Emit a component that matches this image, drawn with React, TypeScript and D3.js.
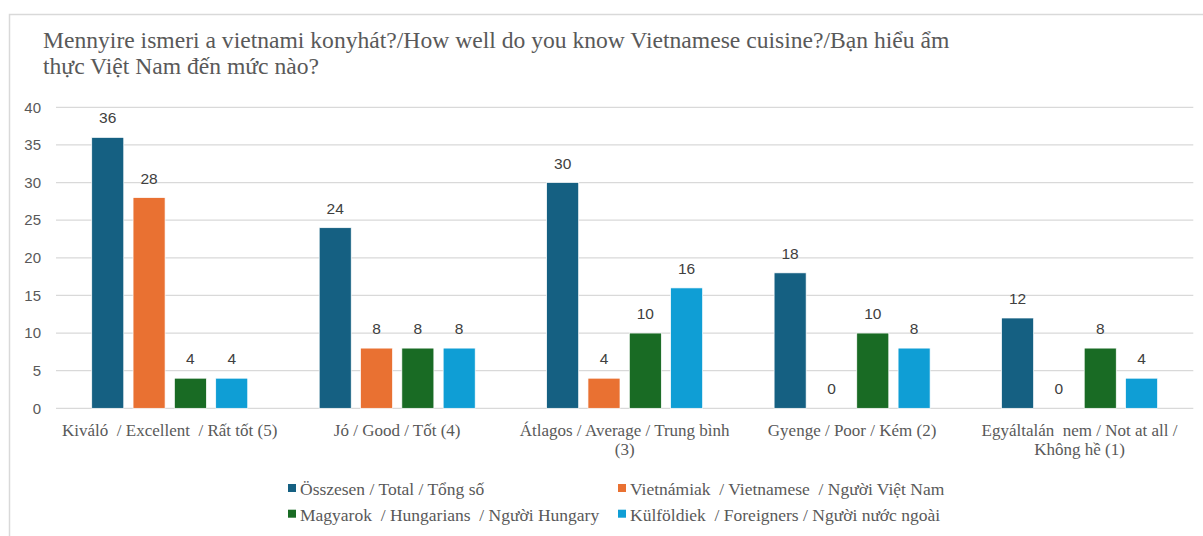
import React from "react";
import * as d3 from "d3";

const titleLines = [
  "Mennyire ismeri a vietnami konyhát?/How well do you know Vietnamese cuisine?/Bạn hiểu ẩm",
  "thực Việt Nam đến mức nào?",
];
const categories = [
  "Kiváló  / Excellent  / Rất tốt (5)",
  "Jó / Good / Tốt (4)",
  "Átlagos / Average / Trung bình (3)",
  "Gyenge / Poor / Kém (2)",
  "Egyáltalán  nem / Not at all / Không hề (1)",
];
const seriesNames = [
  "Összesen / Total / Tổng số",
  "Vietnámiak  / Vietnamese  / Người Việt Nam",
  "Magyarok  / Hungarians  / Người Hungary",
  "Külföldiek  / Foreigners / Người nước ngoài",
];
const seriesColors = ["#156082", "#E97132", "#196B24", "#0F9ED5"];
const totalValues = [36, 24, 30, 18, 12];
const vietnameseValues = [28, 8, 4, 0, 0];
const hungarianValues = [4, 8, 10, 10, 8];
const foreignerValues = [4, 8, 16, 8, 4];
const yTicks = [0, 5, 10, 15, 20, 25, 30, 35, 40];

const seriesValues = [totalValues, vietnameseValues, hungarianValues, foreignerValues];

const W = 1203;
const H = 536;
const SERIF = '"Liberation Serif", "Times New Roman", serif';
const SANS = '"Liberation Sans", Arial, sans-serif';
const CAT_FONT = 17;

function wrap(text: string, maxW: number, font: string): string[] {
  const ctx = document.createElement("canvas").getContext("2d");
  if (!ctx) return [text];
  ctx.font = font;
  const words = text.split(" ");
  const lines: string[] = [];
  let cur = "";
  for (let i = 0; i < words.length; i++) {
    const trial = cur === "" ? words[i] : cur + " " + words[i];
    if (ctx.measureText(trial.trim()).width > maxW && cur.trim() !== "") {
      lines.push(cur.trim());
      cur = words[i];
    } else {
      cur = trial;
    }
  }
  if (cur.trim() !== "") lines.push(cur.trim());
  return lines;
}

export default function App() {
  const x0 = d3.scaleBand<string>().domain(categories).range([56, 1193.3]).paddingInner(0).paddingOuter(0);
  const bw = x0.bandwidth();
  const groupW = 156;
  const x1 = d3
    .scaleBand<string>()
    .domain(seriesNames)
    .range([(bw - groupW) / 2, (bw + groupW) / 2])
    .paddingInner(0.225)
    .paddingOuter(0);
  const y = d3.scaleLinear().domain([0, 40]).range([408.3, 107.3]);

  const catFont = `${CAT_FONT}px ${SERIF}`;

  return (
    <svg
      width={W}
      height={H}
      style={{ position: "absolute", left: 0, top: 0, background: "#fff" }}
    >
      <rect x={0} y={0} width={W} height={H} fill="#fff" />
      <rect x={9.5} y={14.5} width={W + 20} height={H + 20} fill="#fff" stroke="#d9d9d9" strokeWidth={1.5} />
      {titleLines.map((t, i) => (
        <text key={i} x={43} y={48 + i * 25.5} fontFamily={SERIF} fontSize={23.6} fill="#595959">
          {t}
        </text>
      ))}
      {yTicks.map((t) => (
        <g key={t}>
          <line x1={56} x2={1193.3} y1={y(t)} y2={y(t)} stroke="#d9d9d9" strokeWidth={1.3} />
          <text x={41} y={y(t)} dy="0.35em" textAnchor="end" fontFamily={SANS} fontSize={15} fill="#595959">
            {t}
          </text>
        </g>
      ))}
      {categories.map((c, ci) => (
        <g key={c} transform={`translate(${x0(c)},0)`}>
          {seriesNames.map((s, si) => {
            const v = seriesValues[si][ci];
            const bx = x1(s) as number;
            return (
              <g key={s}>
                {v > 0 && (
                  <rect
                    x={bx}
                    y={y(v)}
                    width={x1.bandwidth()}
                    height={y(0) - y(v)}
                    fill={seriesColors[si]}
                    stroke="#fff"
                    strokeWidth={0.7}
                  />
                )}
                <text
                  x={bx + x1.bandwidth() / 2}
                  y={y(v) - 14}
                  textAnchor="middle"
                  fontFamily={SANS}
                  fontSize={15.5}
                  fill="#404040"
                >
                  {v}
                </text>
              </g>
            );
          })}
          {wrap(c, bw - 4, catFont).map((line, li) => (
            <text
              key={li}
              x={bw / 2}
              y={435.5 + li * 19}
              textAnchor="middle"
              fontFamily={SERIF}
              fontSize={CAT_FONT}
              fill="#595959"
              style={{ whiteSpace: "pre" }}
            >
              {line}
            </text>
          ))}
        </g>
      ))}
      {seriesNames.map((s, si) => {
        const col = si % 2;
        const row = Math.floor(si / 2);
        const lx = col === 0 ? 288 : 618;
        const ly = 495 + row * 25.7;
        return (
          <g key={s}>
            <rect x={lx} y={ly - 11} width={8} height={8} fill={seriesColors[si]} />
            <text
              x={lx + 12}
              y={ly}
              fontFamily={SERIF}
              fontSize={17.5}
              fill="#595959"
              style={{ whiteSpace: "pre" }}
            >
              {s}
            </text>
          </g>
        );
      })}
    </svg>
  );
}
